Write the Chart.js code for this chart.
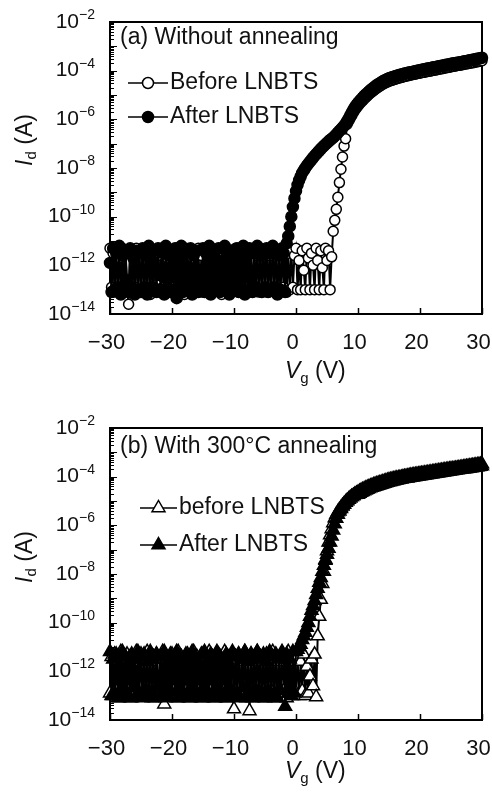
<!DOCTYPE html>
<html>
<head>
<meta charset="utf-8">
<script src="https://cdn.jsdelivr.net/npm/chart.js@4.4.0/dist/chart.umd.min.js"></script>
<style>
body{margin:0;background:#fff;}
#wrap{position:relative;width:492px;height:799px;}
canvas{position:absolute;left:0;}
</style>
</head>
<body>
<div id="wrap">
<canvas id="chartA" width="492" height="400" style="top:0"></canvas>
<canvas id="chartB" width="492" height="399" style="top:400px"></canvas>
</div>
<script>
// gate voltage sweep (V), 0.25 V steps
var vg = [
-30,-29.75,-29.5,-29.25,-29,-28.75,-28.5,-28.25,-28,-27.75,-27.5,-27.25,-27,-26.75,-26.5,-26.25,-26,-25.75,-25.5,-25.25,
-25,-24.75,-24.5,-24.25,-24,-23.75,-23.5,-23.25,-23,-22.75,-22.5,-22.25,-22,-21.75,-21.5,-21.25,-21,-20.75,-20.5,-20.25,
-20,-19.75,-19.5,-19.25,-19,-18.75,-18.5,-18.25,-18,-17.75,-17.5,-17.25,-17,-16.75,-16.5,-16.25,-16,-15.75,-15.5,-15.25,
-15,-14.75,-14.5,-14.25,-14,-13.75,-13.5,-13.25,-13,-12.75,-12.5,-12.25,-12,-11.75,-11.5,-11.25,-11,-10.75,-10.5,-10.25,
-10,-9.75,-9.5,-9.25,-9,-8.75,-8.5,-8.25,-8,-7.75,-7.5,-7.25,-7,-6.75,-6.5,-6.25,-6,-5.75,-5.5,-5.25,
-5,-4.75,-4.5,-4.25,-4,-3.75,-3.5,-3.25,-3,-2.75,-2.5,-2.25,-2,-1.75,-1.5,-1.25,-1,-0.75,-0.5,-0.25,
0,0.25,0.5,0.75,1,1.25,1.5,1.75,2,2.25,2.5,2.75,3,3.25,3.5,3.75,4,4.25,4.5,4.75,
5,5.25,5.5,5.75,6,6.25,6.5,6.75,7,7.25,7.5,7.75,8,8.25,8.5,8.75,9,9.25,9.5,9.75,
10,10.25,10.5,10.75,11,11.25,11.5,11.75,12,12.25,12.5,12.75,13,13.25,13.5,13.75,14,14.25,14.5,14.75,
15,15.25,15.5,15.75,16,16.25,16.5,16.75,17,17.25,17.5,17.75,18,18.25,18.5,18.75,19,19.25,19.5,19.75,
20,20.25,20.5,20.75,21,21.25,21.5,21.75,22,22.25,22.5,22.75,23,23.25,23.5,23.75,24,24.25,24.5,24.75,
25,25.25,25.5,25.75,26,26.25,26.5,26.75,27,27.25,27.5,27.75,28,28.25,28.5,28.75,29,29.25,29.5,29.75,
30];

// log10(Id / A), panel (a) without annealing
var logIdA_before = [
-11.3,-12.9,-11.5,-13.1,-11.4,-13.0,-11.7,-12.9,-11.3,-13.1,-11.5,-13.0,-13.6,-11.4,-13.1,-11.6,-12.9,-11.3,-13.0,-11.5,
-13.0,-11.4,-13.1,-11.6,-12.9,-11.3,-13.2,-11.5,-13.0,-11.4,-12.8,-11.6,-13.1,-11.3,-12.9,-11.5,-13.0,-11.7,-13.1,-11.4,
-12.9,-11.5,-13.1,-11.3,-13.0,-11.6,-12.9,-11.4,-13.2,-11.3,-13.0,-11.5,-12.9,-11.7,-13.1,-11.4,-13.0,-11.3,-12.9,-11.6,
-13.1,-11.4,-13.0,-11.5,-12.9,-11.3,-13.1,-11.6,-13.0,-11.4,-12.9,-11.5,-13.2,-11.3,-13.0,-11.6,-12.9,-11.4,-13.1,-11.5,
-13.0,-11.3,-12.9,-11.5,-13.1,-11.4,-13.0,-11.6,-12.9,-11.3,-13.1,-11.5,-13.0,-11.4,-12.9,-11.6,-13.1,-11.3,-13.0,-11.5,
-12.9,-11.4,-13.1,-11.6,-13.0,-11.3,-12.9,-11.5,-13.1,-11.4,-13.0,-11.6,-12.9,-11.3,-13.1,-11.5,-13.0,-11.4,-12.9,-11.6,
-11.3,-13.0,-11.8,-13.0,-11.4,-12.2,-13.0,-11.3,-11.7,-13.0,-11.5,-12.0,-13.0,-11.3,-11.8,-13.0,-11.4,-12.1,-13.0,-11.3,
-11.8,-11.4,-13.0,-11.65,-10.6,-10.15,-9.7,-9.2,-8.6,-8.05,-7.55,-7.1,-6.8,-6.2,-6.08,-5.96,-5.84,-5.72,-5.62,-5.53,
-5.45,-5.37,-5.3,-5.23,-5.16,-5.1,-5.04,-4.98,-4.92,-4.87,-4.82,-4.77,-4.72,-4.68,-4.64,-4.6,-4.56,-4.52,-4.49,-4.46,
-4.43,-4.41,-4.39,-4.37,-4.35,-4.33,-4.31,-4.29,-4.28,-4.26,-4.24,-4.23,-4.21,-4.2,-4.18,-4.17,-4.15,-4.14,-4.12,-4.11,
-4.1,-4.08,-4.07,-4.06,-4.04,-4.03,-4.02,-4.01,-3.99,-3.98,-3.97,-3.96,-3.94,-3.93,-3.92,-3.91,-3.89,-3.88,-3.87,-3.86,
-3.84,-3.83,-3.82,-3.81,-3.79,-3.78,-3.77,-3.76,-3.74,-3.73,-3.72,-3.71,-3.69,-3.68,-3.67,-3.66,-3.64,-3.63,-3.62,-3.61,
-3.59];

var logIdA_after = [
-11.9,-13.1,-11.3,-13.0,-11.5,-12.9,-11.2,-13.2,-11.6,-13.0,-11.4,-12.6,-13.1,-11.3,-12.9,-11.7,-13.2,-11.4,-13.0,-11.5,
-13.1,-11.3,-12.9,-11.6,-13.2,-11.2,-13.0,-11.8,-12.9,-11.4,-13.1,-11.3,-12.4,-13.0,-11.5,-13.2,-11.2,-12.9,-11.6,-13.1,
-11.4,-13.0,-11.3,-13.35,-11.7,-12.9,-11.2,-13.1,-11.5,-13.0,-11.4,-12.8,-11.3,-13.2,-11.6,-12.9,-11.4,-13.1,-12.2,-13.0,
-11.3,-13.1,-11.5,-12.9,-11.2,-13.2,-11.6,-13.0,-11.4,-12.7,-11.3,-13.1,-11.8,-12.9,-11.2,-13.0,-11.5,-13.2,-11.4,-12.9,
-11.6,-13.0,-11.3,-13.1,-11.4,-12.9,-11.2,-13.2,-11.7,-13.0,-11.3,-12.5,-13.1,-11.5,-12.9,-11.2,-13.0,-11.6,-13.1,-11.4,
-12.9,-11.3,-13.1,-11.5,-13.0,-11.2,-12.9,-11.4,-13.2,-11.6,-13.0,-11.3,-11.5,-13.1,-11.1,-10.8,-10.4,-10.0,-9.6,-9.25,
-8.95,-8.7,-8.5,-8.35,-8.2,-8.1,-8.0,-7.9,-7.82,-7.74,-7.66,-7.58,-7.5,-7.43,-7.36,-7.29,-7.22,-7.15,-7.09,-7.03,
-6.97,-6.91,-6.85,-6.8,-6.75,-6.69,-6.62,-6.55,-6.48,-6.41,-6.34,-6.27,-6.18,-6.08,-5.96,-5.84,-5.72,-5.6,-5.5,-5.41,
-5.33,-5.25,-5.18,-5.11,-5.04,-4.98,-4.92,-4.86,-4.8,-4.75,-4.7,-4.65,-4.6,-4.56,-4.52,-4.48,-4.44,-4.4,-4.37,-4.34,
-4.31,-4.29,-4.27,-4.25,-4.23,-4.21,-4.19,-4.17,-4.16,-4.14,-4.12,-4.11,-4.09,-4.08,-4.06,-4.05,-4.03,-4.02,-4.0,-3.99,
-3.98,-3.96,-3.95,-3.94,-3.92,-3.91,-3.9,-3.89,-3.87,-3.86,-3.85,-3.84,-3.82,-3.81,-3.8,-3.79,-3.77,-3.76,-3.75,-3.74,
-3.72,-3.71,-3.7,-3.69,-3.67,-3.66,-3.65,-3.64,-3.62,-3.61,-3.6,-3.59,-3.57,-3.56,-3.55,-3.54,-3.52,-3.51,-3.5,-3.49,
-3.47];

// log10(Id / A), panel (b) with 300 C annealing
var logIdB_before = [
-12.9,-11.4,-13.0,-11.3,-12.8,-11.6,-13.1,-11.2,-12.9,-11.5,-13.0,-11.3,-12.8,-11.4,-13.1,-11.6,-12.9,-11.2,-13.0,-11.5,
-11.3,-12.9,-11.5,-13.0,-11.2,-12.8,-11.6,-13.1,-11.4,-12.9,-11.3,-13.0,-11.5,-12.8,-11.2,-13.35,-11.4,-12.9,-11.6,-13.0,
-11.3,-12.8,-11.5,-13.1,-11.2,-12.9,-11.4,-13.0,-11.6,-12.8,-11.3,-13.1,-11.5,-12.9,-11.2,-13.0,-11.4,-12.8,-11.6,-13.1,
-11.3,-12.9,-11.5,-13.0,-11.2,-12.8,-11.4,-13.1,-11.6,-12.9,-11.3,-13.0,-11.5,-12.8,-11.2,-13.1,-11.4,-12.9,-11.6,-13.0,
-13.55,-11.4,-12.9,-11.3,-13.0,-11.5,-12.8,-11.2,-13.1,-11.6,-13.63,-11.3,-12.9,-11.5,-13.0,-11.2,-12.8,-11.4,-13.1,-11.6,
-12.9,-11.3,-13.0,-11.5,-12.8,-11.2,-13.1,-11.4,-12.9,-11.6,-13.0,-11.3,-12.8,-11.5,-13.1,-11.2,-12.9,-11.4,-13.0,-11.6,
-12.9,-11.4,-13.0,-11.6,-12.8,-11.3,-13.0,-11.8,-12.9,-12.2,-11.5,-12.6,-11.3,-13.05,-10.55,-9.75,-9.05,-8.4,-7.9,-7.45,
-7.05,-6.7,-6.4,-6.15,-5.9,-5.7,-5.55,-5.45,-5.36,-5.28,-5.2,-5.12,-5.05,-4.99,-4.93,-4.88,-4.83,-4.78,-4.74,-4.7,
-4.73,-4.69,-4.65,-4.62,-4.59,-4.56,-4.53,-4.5,-4.47,-4.45,-4.42,-4.4,-4.38,-4.36,-4.34,-4.32,-4.3,-4.28,-4.26,-4.24,
-4.22,-4.21,-4.19,-4.18,-4.16,-4.15,-4.13,-4.12,-4.11,-4.09,-4.08,-4.07,-4.06,-4.04,-4.03,-4.02,-4.01,-4.0,-3.99,-3.98,
-3.97,-3.96,-3.95,-3.94,-3.93,-3.92,-3.91,-3.9,-3.89,-3.88,-3.87,-3.86,-3.85,-3.84,-3.83,-3.82,-3.81,-3.8,-3.79,-3.78,
-3.77,-3.76,-3.75,-3.74,-3.73,-3.72,-3.71,-3.7,-3.69,-3.68,-3.67,-3.66,-3.65,-3.64,-3.63,-3.62,-3.61,-3.6,-3.59,-3.58,
-3.56];

var logIdB_after = [
-11.2,-13.0,-11.5,-12.9,-11.3,-13.1,-11.7,-12.8,-11.2,-13.0,-11.4,-12.9,-11.6,-13.1,-11.3,-12.7,-11.5,-13.0,-11.2,-12.9,
-11.4,-13.1,-11.3,-12.8,-11.6,-13.0,-11.2,-12.9,-11.5,-13.1,-11.3,-12.6,-13.0,-11.4,-12.9,-11.2,-13.1,-11.6,-12.8,-11.3,
-13.0,-11.5,-12.9,-11.2,-13.1,-11.4,-12.8,-11.7,-13.0,-11.3,-12.9,-11.5,-13.1,-11.2,-12.7,-11.4,-13.0,-11.6,-12.9,-11.3,
-13.1,-11.2,-12.8,-11.5,-13.0,-11.3,-12.9,-11.6,-13.1,-11.2,-12.8,-11.4,-13.0,-11.5,-12.9,-11.3,-13.1,-11.7,-12.8,-11.2,
-13.0,-11.4,-12.9,-11.3,-13.1,-11.5,-12.7,-11.2,-13.0,-11.6,-12.9,-11.3,-13.1,-11.4,-12.8,-11.2,-13.0,-11.5,-12.9,-11.3,
-13.1,-11.6,-12.8,-11.2,-13.0,-11.4,-12.9,-11.3,-13.1,-11.5,-12.8,-11.2,-11.4,-13.45,-11.3,-12.9,-11.5,-13.0,-11.2,-12.9,
-11.2,-11.1,-11.0,-10.9,-10.7,-10.55,-10.4,-10.2,-10.0,-9.75,-9.5,-9.3,-9.1,-8.85,-8.6,-8.35,-8.15,-7.9,-7.65,-7.4,
-7.2,-6.95,-6.7,-6.45,-6.2,-5.95,-5.72,-5.55,-5.42,-5.32,-5.22,-5.14,-5.06,-5.0,-4.94,-4.88,-4.83,-4.78,-4.73,-4.69,
-4.65,-4.61,-4.57,-4.54,-4.51,-4.48,-4.45,-4.42,-4.39,-4.37,-4.34,-4.32,-4.3,-4.28,-4.26,-4.24,-4.22,-4.2,-4.18,-4.16,
-4.14,-4.13,-4.11,-4.1,-4.08,-4.07,-4.05,-4.04,-4.03,-4.01,-4.0,-3.99,-3.98,-3.96,-3.95,-3.94,-3.93,-3.92,-3.91,-3.9,
-3.89,-3.88,-3.87,-3.86,-3.85,-3.84,-3.83,-3.82,-3.81,-3.8,-3.79,-3.78,-3.77,-3.76,-3.75,-3.74,-3.73,-3.72,-3.71,-3.7,
-3.69,-3.68,-3.67,-3.66,-3.65,-3.64,-3.63,-3.62,-3.61,-3.6,-3.59,-3.58,-3.57,-3.56,-3.55,-3.54,-3.53,-3.52,-3.51,-3.5,
-3.48];

var xTicks = [-30, -20, -10, 0, 10, 20, 30];
var yTickExps = [-14, -12, -10, -8, -6, -4, -2];

var FONT = '"Liberation Sans", Arial, sans-serif';

function toPoints(logs) {
	return vg.map(function(v, i) {
		return {x: v, y: Math.pow(10, logs[i])};
	});
}

function drawMarker(ctx, style, filled, x, y) {
	ctx.save();
	ctx.fillStyle = filled ? '#000' : '#fff';
	ctx.strokeStyle = '#000';
	ctx.lineWidth = 1.5;
	ctx.beginPath();
	if (style === 'triangle') {
		var r = 7.5;
		ctx.moveTo(x, y - r);
		ctx.lineTo(x + r * 0.866, y + r / 2);
		ctx.lineTo(x - r * 0.866, y + r / 2);
		ctx.closePath();
	} else {
		ctx.arc(x, y, 5.5, 0, Math.PI * 2);
	}
	ctx.fill();
	ctx.stroke();
	ctx.restore();
}

// frame, inward ticks, labels, titles and the in-plot legend
var panelPlugin = {
	id: 'panel',
	beforeDatasetsDraw: function(chart) {
		var ctx = chart.ctx, a = chart.chartArea;
		var xs = chart.scales.x, ys = chart.scales.y;
		ctx.save();
		ctx.strokeStyle = '#000';
		ctx.lineWidth = 1;
		for (var e = -14; e < -2; e++) {
			for (var k = 1; k < 10; k++) {
				var py = Math.round(ys.getPixelForValue(k * Math.pow(10, e))) + 0.5;
				ctx.beginPath();
				ctx.moveTo(a.left, py);
				ctx.lineTo(a.left + (k === 1 ? 7 : 4), py);
				ctx.stroke();
			}
		}
		ctx.lineWidth = 1.5;
		xTicks.forEach(function(v) {
			var px = Math.round(xs.getPixelForValue(v)) + 0.5;
			ctx.beginPath();
			ctx.moveTo(px, a.bottom);
			ctx.lineTo(px, a.bottom - 6);
			ctx.stroke();
		});
		ctx.lineWidth = 2;
		ctx.strokeRect(a.left, a.top, a.right - a.left, a.bottom - a.top);
		ctx.restore();
	},
	afterDraw: function(chart, args, o) {
		var ctx = chart.ctx, a = chart.chartArea;
		var xs = chart.scales.x, ys = chart.scales.y;
		ctx.save();
		ctx.fillStyle = '#111';
		ctx.textBaseline = 'middle';
		ctx.textAlign = 'left';

		// y tick labels 10^n
		yTickExps.forEach(function(e) {
			var py = ys.getPixelForValue(Math.pow(10, e));
			var sup = '\u2212' + (-e);
			ctx.font = '14px ' + FONT;
			var ws = ctx.measureText(sup).width;
			ctx.font = '21px ' + FONT;
			var wb = ctx.measureText('10').width;
			var right = a.left - 15;
			ctx.fillText('10', right - ws - wb, py);
			ctx.font = '14px ' + FONT;
			ctx.fillText(sup, right - ws, py - 7);
		});

		// x tick labels
		ctx.font = '22px ' + FONT;
		ctx.textAlign = 'center';
		xTicks.forEach(function(v) {
			var txt = v < 0 ? '\u2212' + (-v) : String(v);
			ctx.fillText(txt, xs.getPixelForValue(v) - 3.5, a.bottom + 29);
		});

		// x axis title  Vg (V)
		ctx.textAlign = 'left';
		var tx = a.left + 175, ty = a.bottom + o.xTitleDy;
		ctx.font = 'italic 23px ' + FONT;
		ctx.fillText('V', tx, ty);
		var w1 = ctx.measureText('V').width;
		ctx.font = '15px ' + FONT;
		ctx.fillText('g', tx + w1, ty + 7);
		var w2 = ctx.measureText('g').width;
		ctx.font = '23px ' + FONT;
		ctx.fillText(' (V)', tx + w1 + w2, ty);

		// y axis title  Id (A)
		ctx.save();
		ctx.translate(26, o.yTitleCy);
		ctx.rotate(-Math.PI / 2);
		ctx.font = 'italic 23px ' + FONT;
		var i1 = ctx.measureText('I').width;
		ctx.font = '15px ' + FONT;
		var i2 = ctx.measureText('d').width;
		ctx.font = '23px ' + FONT;
		var i3 = ctx.measureText(' (A)').width;
		var sx = -(i1 + i2 + i3) / 2;
		ctx.font = 'italic 23px ' + FONT;
		ctx.fillText('I', sx, 0);
		ctx.font = '15px ' + FONT;
		ctx.fillText('d', sx + i1, 6);
		ctx.font = '23px ' + FONT;
		ctx.fillText(' (A)', sx + i1 + i2, 0);
		ctx.restore();

		// panel title
		ctx.font = '23px ' + FONT;
		ctx.fillText(o.title, a.left + 10, o.titleY);

		// legend
		chart.data.datasets.forEach(function(ds, i) {
			var ly = o.legendY[i];
			ctx.strokeStyle = '#000';
			ctx.lineWidth = 1.5;
			ctx.beginPath();
			ctx.moveTo(o.legendX[0], ly);
			ctx.lineTo(o.legendX[1], ly);
			ctx.stroke();
			drawMarker(ctx, ds.pointStyle, ds.pointBackgroundColor === '#000', (o.legendX[0] + o.legendX[1]) / 2, ly);
			ctx.fillStyle = '#111';
			ctx.font = '23px ' + FONT;
			ctx.fillText(ds.label, o.legendX[1] + 2, ly);
		});
		ctx.restore();
	}
};

function makeChart(id, names, logsBefore, logsAfter, style, pad, panel) {
	var common = {
		borderColor: '#000',
		borderWidth: 2,
		pointStyle: style,
		pointBorderColor: '#000',
		pointBorderWidth: 1.5,
		fill: false,
		tension: 0,
		clip: false
	};
	var before = Object.assign({}, common, {
		label: names[0],
		data: toPoints(logsBefore),
		pointRadius: style === 'triangle' ? 7.5 : 5,
		pointBackgroundColor: '#fff',
		order: 1
	});
	var after = Object.assign({}, common, {
		label: names[1],
		data: toPoints(logsAfter),
		pointRadius: style === 'triangle' ? 7.5 : 5.5,
		pointBackgroundColor: '#000',
		order: 0
	});
	return new Chart(document.getElementById(id), {
		type: 'line',
		data: {datasets: [before, after]},
		options: {
			responsive: false,
			animation: false,
			devicePixelRatio: 1,
			events: [],
			layout: {padding: pad},
			scales: {
				x: {type: 'linear', min: -30, max: 30, display: false},
				y: {type: 'logarithmic', min: 1e-14, max: 1e-2, display: false}
			},
			plugins: {
				legend: {display: false},
				tooltip: {enabled: false},
				panel: panel
			}
		},
		plugins: [panelPlugin]
	});
}

makeChart('chartA', ['Before LNBTS', 'After LNBTS'], logIdA_before, logIdA_after, 'circle',
	{left: 110, top: 22, right: 10, bottom: 86},
	{title: '(a) Without annealing', titleY: 38, legendY: [83, 117], legendX: [128, 168], xTitleDy: 58, yTitleCy: 140});

makeChart('chartB', ['before LNBTS', 'After LNBTS'], logIdB_before, logIdB_after, 'triangle',
	{left: 110, top: 28, right: 10, bottom: 79},
	{title: '(b) With 300\u00b0C annealing', titleY: 47, legendY: [108, 145], legendX: [140, 177], xTitleDy: 52, yTitleCy: 157});
</script>
</body>
</html>
